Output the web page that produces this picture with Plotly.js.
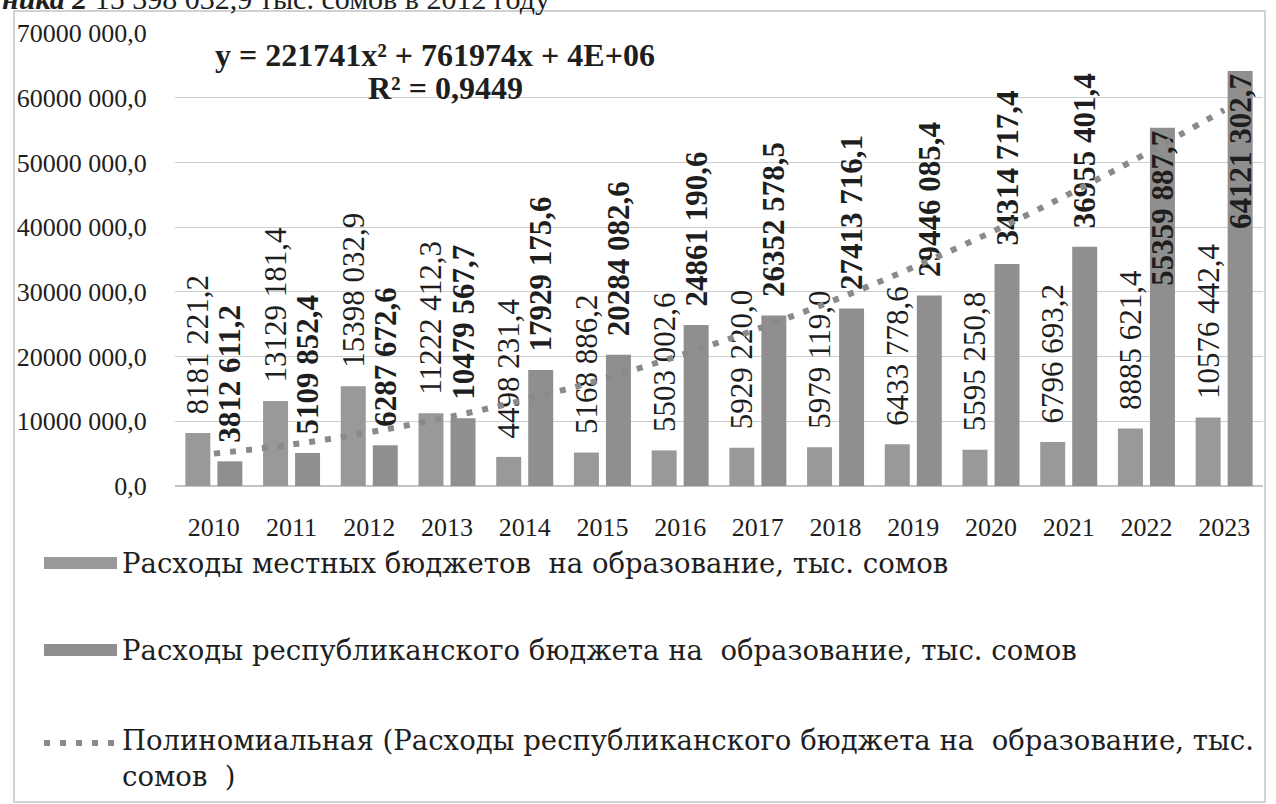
<!DOCTYPE html>
<html>
<head>
<meta charset="utf-8">
<script src="https://cdn.plot.ly/plotly-3.0.1.min.js"></script>
<style>html,body{margin:0;padding:0;background:#fff;}#chart{width:1276px;height:804px;}</style>
</head>
<body>
<div id="chart"></div>
<script>
const years = ['2010','2011','2012','2013','2014','2015','2016','2017','2018','2019','2020','2021','2022','2023'];
const localBudget = [8181221.2, 13129181.4, 15398032.9, 11222412.3, 4498231.4, 5168886.2, 5503002.6, 5929220.0, 5979119.0, 6433778.6, 5595250.8, 6796693.2, 8885621.4, 10576442.4];
const republicanBudget = [3812611.2, 5109852.4, 6287672.6, 10479567.7, 17929175.6, 20284082.6, 24861190.6, 26352578.5, 27413716.1, 29446085.4, 34314717.4, 36955401.4, 55359887.7, 64121302.7];
// dotted polynomial trend, values at each year
const trendValues = [5.0e6, 6.4e6, 8.3e6, 10.6e6, 13.3e6, 16.5e6, 20.2e6, 24.3e6, 28.8e6, 33.8e6, 39.2e6, 45.1e6, 51.4e6, 58.1e6];
const yTickValues = [0, 10000000, 20000000, 30000000, 40000000, 50000000, 60000000, 70000000];
const yTickLabels = ['0,0', '10000 000,0', '20000 000,0', '30000 000,0', '40000 000,0', '50000 000,0', '60000 000,0', '70000 000,0'];
const seriesNames = [
  'Расходы местных бюджетов\u00a0 на образование, тыс. сомов',
  'Расходы республиканского бюджета на\u00a0 образование, тыс. сомов',
  'Полиномиальная (Расходы республиканского бюджета на\u00a0 образование, тыс.<br>сомов\u00a0 )'
];
const equationText = 'y = 221741x² + 761974x + 4E+06';
const r2Text = 'R² = 0,9449';
const headerText = '<b><i>ника 2</i></b> 15 398 032,9 тыс. сомов в 2012 году';

function fmt(v){
  const s = v.toFixed(1);
  const parts = s.split('.');
  const ip = parts[0], dp = parts[1];
  const head = ip.slice(0, -3), tail = ip.slice(-3);
  return (head ? head + ' ' : '') + tail + ',' + dp;
}
const PAD = '\u00a0\u00a0';
const SERIF = "'Liberation Serif', serif";
const WIDE_SERIF = "'DejaVu Serif', serif";
const TXT = '#1e1e1e';

const repPos = republicanBudget.map(v => v > 50e6 ? 'inside' : 'outside');
const repText = republicanBudget.map((v, i) => (repPos[i] === 'outside' ? PAD : '') + fmt(v));
const localText = localBudget.map(v => PAD + fmt(v));

const traces = [
  {
    type: 'bar', name: seriesNames[0], x: years, y: localBudget,
    marker: {color: '#999999'},
    text: localText, textposition: 'outside', textangle: -90,
    textfont: {family: SERIF, size: 31, color: TXT},
    constraintext: 'none', cliponaxis: false, hoverinfo: 'x+y'
  },
  {
    type: 'bar', name: seriesNames[1], x: years, y: republicanBudget,
    marker: {color: '#8f8f8f'},
    text: repText, textposition: repPos, textangle: -90, insidetextanchor: 'end',
    textfont: {family: SERIF, size: 31, color: TXT, weight: 'bold'},
    insidetextfont: {family: SERIF, size: 31, color: TXT, weight: 'bold'},
    outsidetextfont: {family: SERIF, size: 31, color: TXT, weight: 'bold'},
    constraintext: 'none', cliponaxis: false, hoverinfo: 'x+y'
  },
  {
    type: 'scatter', mode: 'lines', name: seriesNames[2], x: years, y: trendValues,
    line: {color: '#8a8a8a', width: 6, dash: '6px,10px', shape: 'spline'},
    hoverinfo: 'skip'
  }
];

// pixel helpers for layout-only decorations (paper coords)
const L = 175, R = 1263, T = 33, B = 486;
const px = x => (x - L) / (R - L);
const py = y => (B - y) / (B - T);

const annotations = [
  {xref: 'paper', yref: 'paper', x: px(435), y: py(55), xanchor: 'center', yanchor: 'middle', showarrow: false,
   text: '<b>' + equationText + '</b>', font: {family: SERIF, size: 32, color: TXT}},
  {xref: 'paper', yref: 'paper', x: px(445), y: py(88), xanchor: 'center', yanchor: 'middle', showarrow: false,
   text: '<b>' + r2Text + '</b>', font: {family: SERIF, size: 32, color: TXT}},
  {xref: 'paper', yref: 'paper', x: px(0), y: py(-2), xanchor: 'left', yanchor: 'middle', showarrow: false,
   text: headerText, font: {family: SERIF, size: 30, color: TXT}},
  {xref: 'paper', yref: 'paper', x: px(120), y: py(563), xanchor: 'left', yanchor: 'middle', showarrow: false,
   text: seriesNames[0], font: {family: WIDE_SERIF, size: 27.5, color: TXT}},
  {xref: 'paper', yref: 'paper', x: px(120), y: py(650), xanchor: 'left', yanchor: 'middle', showarrow: false,
   text: seriesNames[1], font: {family: WIDE_SERIF, size: 27.5, color: TXT}},
  {xref: 'paper', yref: 'paper', x: px(120), y: py(742), xanchor: 'left', yanchor: 'top', showarrow: false, align: 'left',
   yshift: 20, text: seriesNames[2], font: {family: WIDE_SERIF, size: 27.5, color: TXT}}
];

const shapes = [
  {type: 'rect', xref: 'paper', yref: 'paper', x0: px(14), x1: px(1265), y0: py(802), y1: py(11),
   line: {color: '#c4c4c4', width: 1.5}, fillcolor: 'rgba(0,0,0,0)', layer: 'below'},
  {type: 'rect', xref: 'paper', yref: 'paper', x0: px(44), x1: px(117), y0: py(569), y1: py(557),
   line: {width: 0}, fillcolor: '#999999'},
  {type: 'rect', xref: 'paper', yref: 'paper', x0: px(44), x1: px(117), y0: py(656), y1: py(644),
   line: {width: 0}, fillcolor: '#8f8f8f'},
  {type: 'line', xref: 'paper', yref: 'paper', x0: px(44), x1: px(119), y0: py(743), y1: py(743),
   line: {color: '#8a8a8a', width: 6, dash: '6px,10px'}}
];

const layout = {
  width: 1276, height: 804,
  margin: {l: L, r: 1276 - R, t: T, b: 804 - B, pad: 0},
  paper_bgcolor: '#ffffff', plot_bgcolor: '#ffffff',
  showlegend: false,
  barmode: 'group', bargap: 0.176, bargroupgap: 0.22,
  font: {family: SERIF, color: TXT},
  xaxis: {
    type: 'category', showgrid: false, showline: false, zeroline: false,
    ticks: 'outside', ticklen: 18, tickcolor: 'rgba(0,0,0,0)',
    tickfont: {family: SERIF, size: 26, color: TXT}
  },
  yaxis: {
    range: [0, 70000000], tickmode: 'array', tickvals: yTickValues, ticktext: yTickLabels,
    showgrid: true, gridcolor: '#cdcdcd', gridwidth: 1.3,
    zeroline: true, zerolinecolor: '#c4c4c4', zerolinewidth: 1.5, showline: false,
    ticks: 'outside', ticklen: 22, tickcolor: 'rgba(0,0,0,0)',
    tickfont: {family: SERIF, size: 26, color: TXT}
  },
  annotations: annotations,
  shapes: shapes
};

Plotly.newPlot('chart', traces, layout, {displayModeBar: false, responsive: false});
</script>
</body>
</html>
